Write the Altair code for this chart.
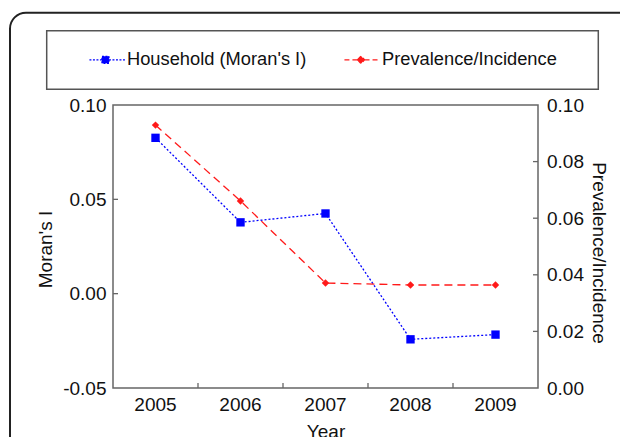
import altair as alt
import pandas as pd

# ---- data ----
years = ["2005", "2006", "2007", "2008", "2009"]
morans_i = [0.0826, 0.0378, 0.0425, -0.0242, -0.0217]
prevalence = [0.0929, 0.0661, 0.0371, 0.0364, 0.0364]
series_names = ["Household (Moran's I)", "Prevalence/Incidence"]
left_tick_values = [-0.05, 0.0, 0.05, 0.10]
right_tick_values = [0.0, 0.02, 0.04, 0.06, 0.08, 0.10]
left_inner_ticks = [0.0, 0.05]
right_inner_ticks = [0.02, 0.04, 0.06, 0.08]
x_inner_ticks = ["2006", "2007", "2008", "2009"]

W, H = 425, 283
FONT = "Liberation Sans"
BLUE = "#0000ff"
RED = "#ff1a1a"
FRAME = "#666666"

blue_df = pd.DataFrame({"year": years, "value": morans_i, "series": series_names[0]})
red_df = pd.DataFrame({"year": years, "value": prevalence, "series": series_names[1]})

x_scale = alt.Scale(type="band", domain=years, paddingInner=0, paddingOuter=0)
x_axis = alt.Axis(title="Year", orient="bottom", ticks=False, domain=False, grid=False,
                  labelAngle=0, labelFontSize=19, labelPadding=7,
                  titleFontSize=19, titlePadding=8, titleFontWeight="normal")


def xenc(band):
    return alt.X("year:O", scale=x_scale, bandPosition=band, axis=x_axis)


y_left_scale = alt.Scale(domain=[-0.05, 0.10], nice=False, zero=False)
y_left = alt.Y("value:Q", scale=y_left_scale, axis=alt.Axis(
    orient="left", values=left_tick_values,
    labelExpr="datum.value < 0 ? '-' + format(-datum.value, '.2f') : format(datum.value, '.2f')",
    title="Moran's I", titleAngle=270, titleX=-68, titleY=144, titleBaseline="middle",
    titleFontSize=19, titleFontWeight="normal",
    ticks=False, domain=False, grid=False, labelPadding=7, labelFontSize=19))

y_right_scale = alt.Scale(domain=[0.0, 0.10], nice=False, zero=False)
y_right = alt.Y("value:Q", scale=y_right_scale, axis=alt.Axis(
    orient="right", values=right_tick_values, format=".2f",
    title="Prevalence/Incidence", titleAngle=90, titleX=60, titleY=147.5, titleBaseline="middle",
    titleFontSize=19, titleFontWeight="normal",
    ticks=False, domain=False, grid=False, labelPadding=8.5, labelFontSize=19))

# ---- blue series (left axis) ----
blue_line = alt.Chart(blue_df).mark_line(color=BLUE, strokeWidth=1.3, strokeDash=[2, 2]).encode(
    x=xenc(0.5), y=y_left)
blue_pts = alt.Chart(blue_df).mark_point(shape="square", filled=True, size=70, color=BLUE, opacity=1).encode(
    x=xenc(0.5), y=y_left)
left_ticks = alt.Chart(pd.DataFrame({"value": left_inner_ticks})).mark_rule(color=FRAME, strokeWidth=1.3).encode(
    y=y_left, x=alt.value(0), x2=alt.value(5))
x_ticks = alt.Chart(pd.DataFrame({"year": x_inner_ticks})).mark_rule(color=FRAME, strokeWidth=1.3).encode(
    x=xenc(0), y=alt.value(H), y2=alt.value(H - 5))
blue_layer = alt.layer(x_ticks, left_ticks, blue_line, blue_pts)

# ---- red series (right axis) ----
red_line = alt.Chart(red_df).mark_line(color=RED, strokeWidth=1.3, strokeDash=[8, 5]).encode(
    x=xenc(0.5), y=y_right)
red_pts = alt.Chart(red_df).mark_point(shape="diamond", filled=True, size=55, color=RED, opacity=1).encode(
    x=xenc(0.5), y=y_right)
right_ticks = alt.Chart(pd.DataFrame({"value": right_inner_ticks})).mark_rule(color=FRAME, strokeWidth=1.3).encode(
    y=y_right, x=alt.value(W - 5), x2=alt.value(W))
red_layer = alt.layer(right_ticks, red_line, red_pts)

# ---- legend (line + marker symbols) ----
path_blue = "M1.94,0H3.73M3.73,-0.5H4.73V0.5H3.73ZM4.73,0H7.09"
path_red = "M1.94,0H3.81M3.81,0L4.31,-0.55L4.81,0L4.31,0.55ZM4.81,0H7.09"
leg = alt.Legend(orient="none", legendX=-46.3, legendY=-54.6, direction="horizontal", title=None,
                 labelFontSize=18.3, labelFont=FONT, labelColor="#111111", labelLimit=400,
                 symbolSize=196, symbolOpacity=1,
                 labelOffset=42, columnPadding=15, padding=0, symbolStrokeWidth=1.3)
legend_src = alt.Chart(pd.DataFrame({"series": series_names})).mark_point(filled=True, opacity=0).encode(
    x=alt.value(0), y=alt.value(0),
    fill=alt.Fill("series:N", scale=alt.Scale(domain=series_names, range=[BLUE, RED]), legend=leg),
    stroke=alt.Stroke("series:N", scale=alt.Scale(domain=series_names, range=[BLUE, RED]), legend=leg),
    shape=alt.Shape("series:N", scale=alt.Scale(domain=series_names, range=[path_blue, path_red]), legend=leg),
    strokeDash=alt.StrokeDash("series:N", scale=alt.Scale(domain=series_names, range=[[2, 1.5], [5, 3]]), legend=leg),
)

# ---- decorations: outer rounded frame and legend box ----
one = pd.DataFrame({"k": [0]})
outer_frame = alt.Chart(one).mark_rect(fillOpacity=0, stroke="#222222", strokeWidth=2, cornerRadius=16).encode(
    x=alt.value(-103), x2=alt.value(527), y=alt.value(-92.3), y2=alt.value(360))
legend_box = alt.Chart(one).mark_rect(fillOpacity=0, stroke="#555555", strokeWidth=1.5).encode(
    x=alt.value(-66.3), x2=alt.value(485.3), y=alt.value(-74.3), y2=alt.value(-15.7))

chart = alt.layer(outer_frame, legend_box, legend_src, blue_layer, red_layer).resolve_scale(
    y="independent"
).properties(
    width=W, height=H,
    padding={"left": 105, "top": 97, "right": 82, "bottom": 60},
    autosize=alt.AutoSizeParams(type="none"),
).configure(
    font=FONT,
).configure_view(
    stroke=FRAME, strokeWidth=1.5
).configure_axis(
    labelFont=FONT, titleFont=FONT, labelColor="#111111", titleColor="#111111"
)

chart.save("out.html", embed_options={"renderer": "svg", "actions": False})
